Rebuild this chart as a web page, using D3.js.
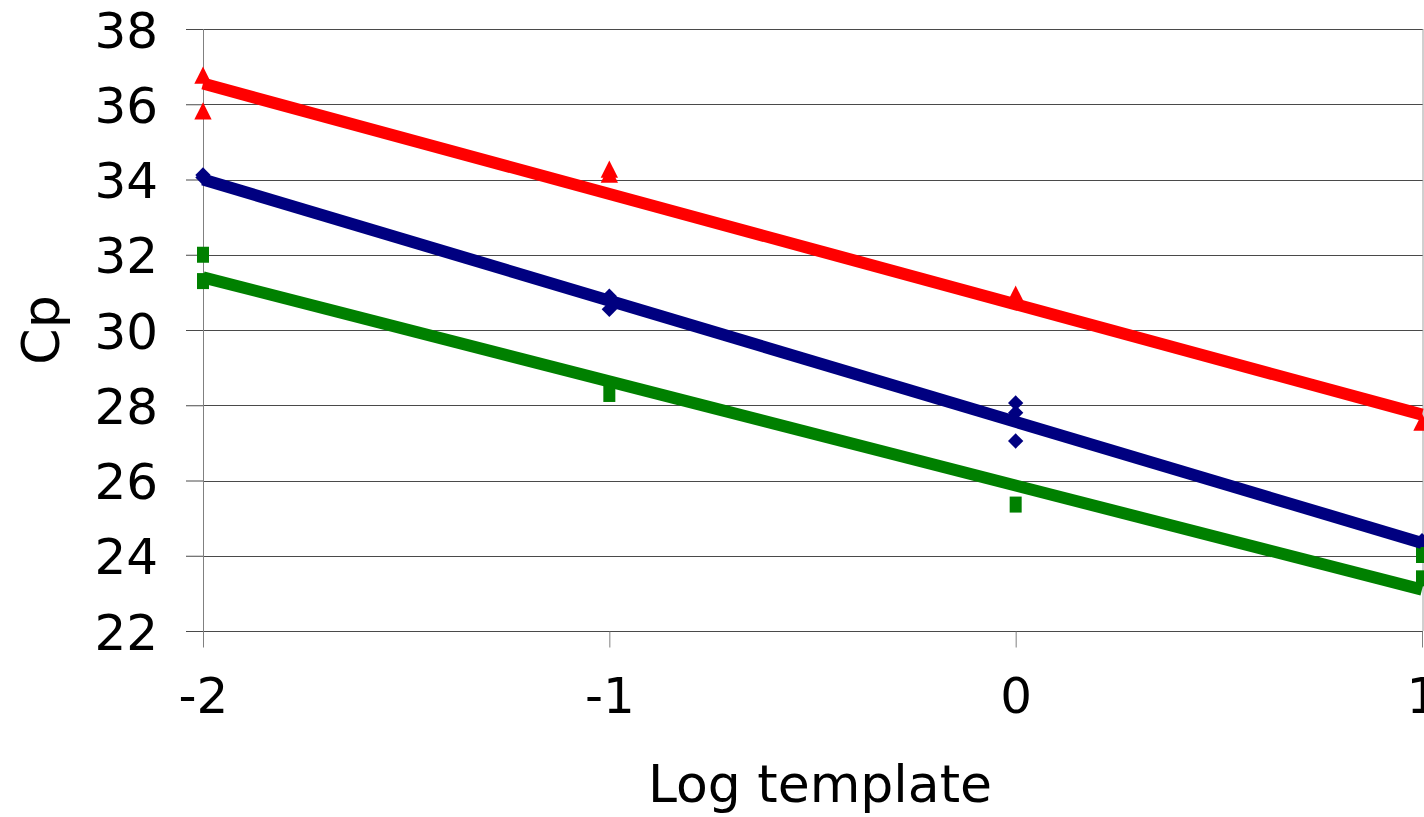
<!DOCTYPE html>
<html>
<head>
<meta charset="utf-8">
<script src="https://cdn.jsdelivr.net/npm/d3@7"></script>
<style>
  html, body { margin: 0; padding: 0; background: #fff; overflow: hidden; }
  text { font-family: "DejaVu Sans", Verdana, sans-serif; fill: #000; }
</style>
</head>
<body>
<svg id="chart" width="1424" height="817"></svg>
<script>
// ---- data ----
const xTicks = [-2, -1, 0, 1];
const yTicks = [22, 24, 26, 28, 30, 32, 34, 36, 38];

const redX   = [-2, -2, -1, -1, 0, 1];
const redY   = [36.75, 35.8, 34.25, 34.12, 30.93, 27.53];
const blueX  = [-2, -2, -1, -1, 0, 0, 0, 1];
const blueY  = [34.12, 34.05, 30.9, 30.55, 28.06, 27.8, 27.05, 24.4];
const greenX = [-2, -2, -1, 0, 1, 1];
const greenY = [32.0, 31.3, 28.3, 25.36, 24.02, 23.4];

// trend line end points (x = -2 and x = 1)
const trendX     = [-2, 1];
const redTrend   = [36.55, 27.75];
const blueTrend  = [34.0, 24.34];
const greenTrend = [31.4, 23.1];

const xTitle = "Log template";
const yTitle = "Cp";

// ---- drawing ----
const svg = d3.select("#chart");
const x = d3.scaleLinear().domain([-2, 1]).range([203, 1422]);
const y = d3.scaleLinear().domain([22, 38]).range([631, 29]);

// gridlines
svg.append("g").selectAll("line").data(yTicks).join("line")
  .attr("x1", x(-2)).attr("x2", 1423)
  .attr("y1", d => Math.round(y(d)) + 0.5).attr("y2", d => Math.round(y(d)) + 0.5)
  .attr("stroke", "#4a4a4a").attr("stroke-width", 1.2);

// y axis
const yAxis = d3.axisLeft(y).tickValues(yTicks).tickSize(17).tickPadding(28).tickFormat(d => String(d));
const gy = svg.append("g").attr("transform", `translate(${x(-2)},0)`).call(yAxis);
gy.select(".domain").attr("stroke", "#808080").attr("d", `M0.5,${y(38)}V${y(22) + 16}`);
gy.selectAll(".tick line").attr("stroke", "#4a4a4a");
gy.selectAll(".tick text").attr("font-size", 50).attr("font-family", "DejaVu Sans").attr("dy", "0.36em");

// x axis
const xAxis = d3.axisBottom(x).tickValues(xTicks).tickSize(16).tickPadding(30).tickFormat(d => String(d));
const gx = svg.append("g").attr("transform", `translate(0,${Math.round(y(22)) + 0.5})`).call(xAxis);
gx.select(".domain").remove();
gx.selectAll(".tick line").attr("stroke", "#808080");
gx.selectAll(".tick text").attr("font-size", 50).attr("font-family", "DejaVu Sans").attr("dy", "0.71em");

// right border
svg.append("line").attr("x1", 1423).attr("x2", 1423).attr("y1", y(38)).attr("y2", y(22))
  .attr("stroke", "#a0a0a0").attr("stroke-width", 1);

// markers
const tri = d3.symbol().type(d3.symbolTriangle).size(130);
svg.append("g").selectAll("path").data(redX.map((d, i) => [d, redY[i]])).join("path")
  .attr("d", tri).attr("transform", d => `translate(${x(d[0])},${y(d[1]) + 2}) scale(1,1.15)`)
  .attr("fill", "#ff0000");

const dia = d3.symbol().type(d3.symbolDiamond2).size(150);
svg.append("g").selectAll("path").data(blueX.map((d, i) => [d, blueY[i]])).join("path")
  .attr("d", dia).attr("transform", d => `translate(${x(d[0])},${y(d[1])})`)
  .attr("fill", "#000080");

svg.append("g").selectAll("rect").data(greenX.map((d, i) => [d, greenY[i]])).join("rect")
  .attr("x", d => x(d[0]) - 6).attr("y", d => y(d[1]) - 8)
  .attr("width", 12).attr("height", 16)
  .attr("fill", "#008000");

// trend lines
const line = d3.line().x(d => x(d[0])).y(d => y(d[1]));
[[blueTrend, "#000080"], [greenTrend, "#008000"], [redTrend, "#ff0000"]].forEach(([t, c]) => {
  svg.append("path").datum(trendX.map((d, i) => [d, t[i]]))
    .attr("d", line).attr("fill", "none").attr("stroke", c).attr("stroke-width", 12);
});

// titles
svg.append("text").attr("x", 820).attr("y", 802).attr("text-anchor", "middle")
  .attr("font-size", 52).text(xTitle);
svg.append("text").attr("transform", "translate(59,330) rotate(-90)").attr("text-anchor", "middle")
  .attr("font-size", 52).text(yTitle);
</script>
</body>
</html>
